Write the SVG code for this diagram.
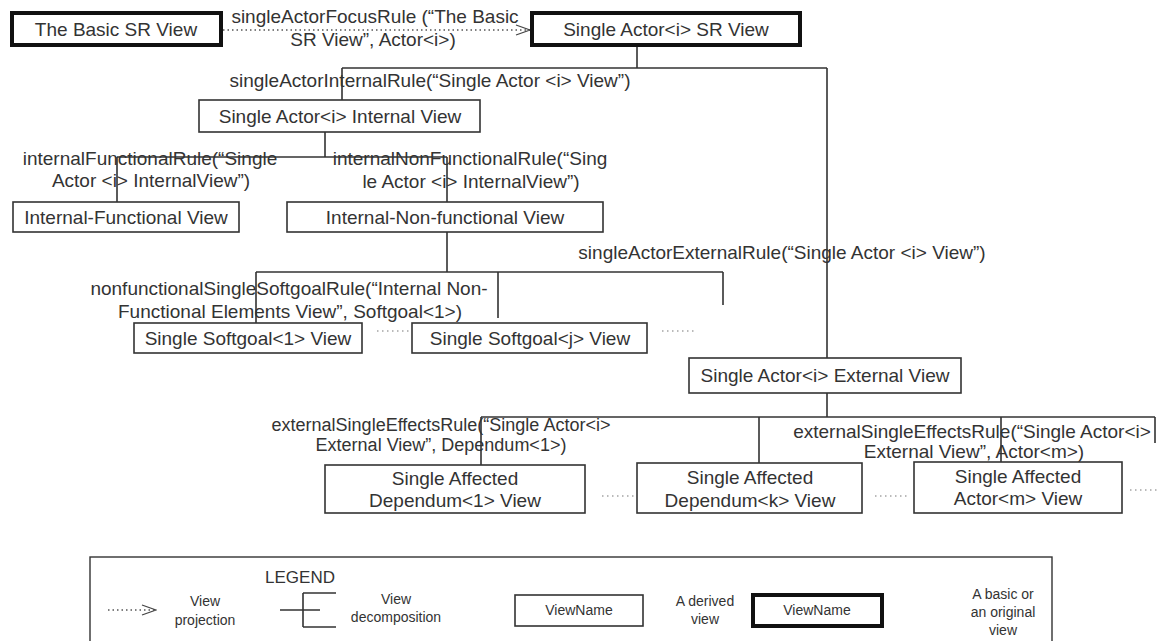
<svg xmlns="http://www.w3.org/2000/svg" width="1160" height="641" viewBox="0 0 1160 641">
  <defs>
    <style>
      text { font-family: "Liberation Sans", Arial, sans-serif; fill: #333; }
      .lbl { font-size: 19px; text-anchor: middle; }
      .lbl2 { font-size: 18px; text-anchor: middle; }
      .lg { font-size: 14px; text-anchor: middle; }
      .box { fill: #fff; stroke: #333; stroke-width: 1.6; }
      .basic { fill: #fff; stroke: #111; stroke-width: 4; }
      .dec { fill: none; stroke: #333; stroke-width: 1.6; }
      .proj { fill: none; stroke: #555; stroke-width: 1.3; stroke-dasharray: 1.5 3; }
      .dots { fill: none; stroke: #777; stroke-width: 1.2; stroke-dasharray: 1.5 3.5; }
    </style>
    <marker id="openArrow" markerWidth="16" markerHeight="12" refX="15" refY="6" orient="auto" markerUnits="userSpaceOnUse">
      <path d="M1,1 L15,6 L1,11" fill="none" stroke="#444" stroke-width="1.3"/>
    </marker>
  </defs>

  <!-- rule labels on the decomposition / projection links -->
  <g id="rule-labels">
    <text class="lbl" x="375" y="23">singleActorFocusRule (“The Basic</text>
    <text class="lbl" x="373" y="46">SR View”, Actor&lt;i&gt;)</text>
    <text class="lbl" x="430" y="87">singleActorInternalRule(“Single Actor &lt;i&gt; View”)</text>
    <text class="lbl" x="150" y="165">internalFunctionalRule(“Single</text>
    <text class="lbl" x="151" y="187">Actor &lt;i&gt; InternalView”)</text>
    <text class="lbl" x="470" y="165">internalNonFunctionalRule(“Sing</text>
    <text class="lbl" x="471" y="188">le Actor &lt;i&gt; InternalView”)</text>
    <text class="lbl" x="289" y="295">nonfunctionalSingleSoftgoalRule(“Internal Non-</text>
    <text class="lbl" x="290" y="318">Functional Elements View”, Softgoal&lt;1&gt;)</text>
    <text class="lbl" x="782" y="259">singleActorExternalRule(“Single Actor &lt;i&gt; View”)</text>
    <text class="lbl2" x="441" y="431">externalSingleEffectsRule(“Single Actor&lt;i&gt;</text>
    <text class="lbl2" x="441" y="451">External View”, Dependum&lt;1&gt;)</text>
    <text class="lbl" x="972" y="438">externalSingleEffectsRule(“Single Actor&lt;i&gt;</text>
    <text class="lbl" x="974" y="458">External View”, Actor&lt;m&gt;)</text>
  </g>

  <!-- view decomposition and projection links -->
  <g id="connectors">
    <line class="proj" x1="223" y1="30" x2="530" y2="30" marker-end="url(#openArrow)"/>
    <path class="dec" d="M637,45 V68 M342,68 H827 M342,68 V100 M827,68 V358"/>
    <path class="dec" d="M325,132 V157 M117,157 H447 M117,157 V202 M447,157 V202"/>
    <path class="dec" d="M447,232 V272 M256,272 H723 M256,272 V323 M498,272 V318 M723,272 V305"/>
    <path class="dec" d="M827,393 V417 M481,417 H1155 M481,417 V465 M759,417 V463 M1001,417 V462 M1155,417 V443"/>
    <path class="dots" d="M377,331 H410 M662,331 H694 M602,496 H635 M875,496 H910 M1130,490 H1160"/>
  </g>

  <g id="basic-sr-view">
    <rect class="basic" x="12" y="13" width="209" height="32"/>
    <text class="lbl" x="116" y="36">The Basic SR View</text>
  </g>
  <g id="single-actor-sr-view">
    <rect class="basic" x="532" y="13" width="268" height="32"/>
    <text class="lbl" x="666" y="36">Single Actor&lt;i&gt; SR View</text>
  </g>
  <g id="single-actor-internal-view">
    <rect class="box" x="199" y="100" width="281" height="32"/>
    <text class="lbl" x="340" y="123">Single Actor&lt;i&gt; Internal View</text>
  </g>
  <g id="internal-functional-view">
    <rect class="box" x="13" y="202" width="226" height="30"/>
    <text class="lbl" x="126" y="224">Internal-Functional View</text>
  </g>
  <g id="internal-nonfunctional-view">
    <rect class="box" x="287" y="202" width="316" height="30"/>
    <text class="lbl" x="445" y="224">Internal-Non-functional View</text>
  </g>
  <g id="softgoal-1-view">
    <rect class="box" x="134" y="323" width="228" height="30"/>
    <text class="lbl" x="248" y="345">Single Softgoal&lt;1&gt; View</text>
  </g>
  <g id="softgoal-j-view">
    <rect class="box" x="412" y="323" width="235" height="30"/>
    <text class="lbl" x="530" y="345">Single Softgoal&lt;j&gt; View</text>
  </g>
  <g id="single-actor-external-view">
    <rect class="box" x="689" y="358" width="272" height="35"/>
    <text class="lbl" x="825" y="382">Single Actor&lt;i&gt; External View</text>
  </g>
  <g id="affected-dependum-1-view">
    <rect class="box" x="325" y="465" width="260" height="48"/>
    <text class="lbl" x="455" y="485">Single Affected</text>
    <text class="lbl" x="455" y="507">Dependum&lt;1&gt; View</text>
  </g>
  <g id="affected-dependum-k-view">
    <rect class="box" x="637" y="463" width="225" height="50"/>
    <text class="lbl" x="750" y="484">Single Affected</text>
    <text class="lbl" x="750" y="507">Dependum&lt;k&gt; View</text>
  </g>
  <g id="affected-actor-m-view">
    <rect class="box" x="914" y="462" width="208" height="51"/>
    <text class="lbl" x="1018" y="483">Single Affected</text>
    <text class="lbl" x="1018" y="505">Actor&lt;m&gt; View</text>
  </g>

  <!-- legend -->
  <g id="legend">
    <rect x="90" y="557" width="962" height="100" fill="#fff" stroke="#333" stroke-width="1.4"/>
    <text x="300" y="583" style="font-size:17px;text-anchor:middle">LEGEND</text>
    <line class="proj" x1="108" y1="610" x2="156" y2="610" marker-end="url(#openArrow)"/>
    <text class="lg" x="205" y="606">View</text>
    <text class="lg" x="205" y="625">projection</text>
    <path class="dec" d="M280,610 H320 M303,593 V627 M303,593 H336 M303,627 H336"/>
    <text class="lg" x="396" y="604">View</text>
    <text class="lg" x="396" y="622">decomposition</text>
    <rect class="box" x="515" y="595" width="128" height="31"/>
    <text class="lg" x="579" y="615">ViewName</text>
    <text class="lg" x="705" y="606">A derived</text>
    <text class="lg" x="705" y="624">view</text>
    <rect class="basic" x="753" y="595" width="129" height="31"/>
    <text class="lg" x="817" y="615">ViewName</text>
    <text class="lg" x="1003" y="599">A basic or</text>
    <text class="lg" x="1003" y="617">an original</text>
    <text class="lg" x="1003" y="635">view</text>
  </g>
</svg>
